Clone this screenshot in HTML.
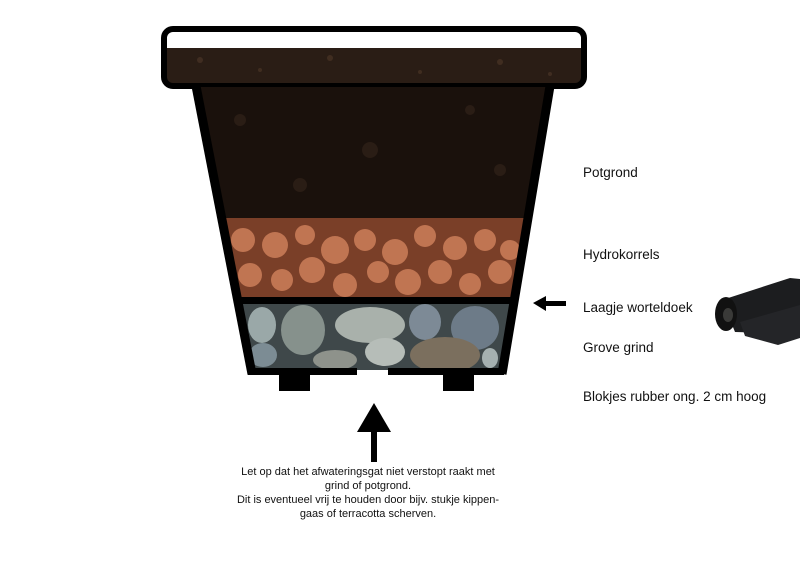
<!DOCTYPE html>
<html><head><meta charset="utf-8"><style>
html,body{margin:0;padding:0;background:#fff;}
svg{display:block;}
text{font-family:"Liberation Sans",sans-serif;fill:#111;}
</style></head><body>
<svg width="800" height="569" viewBox="0 0 800 569" xmlns="http://www.w3.org/2000/svg">
<defs>
<clipPath id="body"><polygon points="196,87 550,87 502,371 252,371"/></clipPath>
</defs>
<!-- rim -->
<rect x="164" y="29" width="420" height="57" rx="9" fill="#fff"/>
<rect x="166" y="48" width="416" height="36" fill="#2a1d15"/>
<g fill="#4a3526" opacity="0.7">
<circle cx="200" cy="60" r="3"/><circle cx="260" cy="70" r="2"/><circle cx="330" cy="58" r="3"/><circle cx="420" cy="72" r="2"/><circle cx="500" cy="62" r="3"/><circle cx="550" cy="74" r="2"/>
</g>
<rect x="164" y="29" width="420" height="57" rx="9" fill="none" stroke="#000" stroke-width="6"/>
<!-- body fill -->
<g clip-path="url(#body)">
<rect x="180" y="87" width="400" height="131" fill="#1a110c"/>
<g fill="#2a1d15"><circle cx="240" cy="120" r="6"/><circle cx="370" cy="150" r="8"/><circle cx="470" cy="110" r="5"/><circle cx="300" cy="185" r="7"/><circle cx="500" cy="170" r="6"/></g>
<rect x="180" y="218" width="400" height="80" fill="#7a3f28"/>
<g fill="#c07552">
<circle cx="243" cy="240" r="12"/><circle cx="275" cy="245" r="13"/><circle cx="305" cy="235" r="10"/><circle cx="335" cy="250" r="14"/><circle cx="365" cy="240" r="11"/><circle cx="395" cy="252" r="13"/><circle cx="425" cy="236" r="11"/><circle cx="455" cy="248" r="12"/><circle cx="485" cy="240" r="11"/><circle cx="510" cy="250" r="10"/>
<circle cx="250" cy="275" r="12"/><circle cx="282" cy="280" r="11"/><circle cx="312" cy="270" r="13"/><circle cx="345" cy="285" r="12"/><circle cx="378" cy="272" r="11"/><circle cx="408" cy="282" r="13"/><circle cx="440" cy="272" r="12"/><circle cx="470" cy="284" r="11"/><circle cx="500" cy="272" r="12"/>
</g>
<rect x="180" y="297" width="400" height="7" fill="#000"/>
<rect x="180" y="304" width="400" height="66" fill="#3f484a"/>
<g>
<ellipse cx="262" cy="325" rx="14" ry="18" fill="#9aa8a8"/><ellipse cx="303" cy="330" rx="22" ry="25" fill="#86918c"/><ellipse cx="370" cy="325" rx="35" ry="18" fill="#a9b1ab"/><ellipse cx="425" cy="322" rx="16" ry="18" fill="#7d8a96"/><ellipse cx="475" cy="328" rx="24" ry="22" fill="#6d7b88"/>
<ellipse cx="263" cy="355" rx="14" ry="12" fill="#7c8c94"/><ellipse cx="335" cy="360" rx="22" ry="10" fill="#8e928b"/><ellipse cx="385" cy="352" rx="20" ry="14" fill="#b6bdb8"/><ellipse cx="445" cy="355" rx="35" ry="18" fill="#7b6f5e"/><ellipse cx="490" cy="358" rx="8" ry="10" fill="#a5b0b0"/>
</g>
</g>
<!-- pot outline -->
<line x1="196" y1="86" x2="252" y2="374" stroke="#000" stroke-width="9"/>
<line x1="550" y1="86" x2="502" y2="374" stroke="#000" stroke-width="9"/>
<rect x="248" y="368" width="109" height="7" fill="#000"/>
<rect x="388" y="368" width="116" height="7" fill="#000"/>
<rect x="279" y="374" width="31" height="17" fill="#000"/>
<rect x="443" y="374" width="31" height="17" fill="#000"/>
<!-- arrows -->
<polygon points="374,403 357,432 391,432" fill="#000"/>
<rect x="371" y="430" width="6" height="32" fill="#000"/>
<polygon points="533,303 546,296 546,311" fill="#000"/>
<rect x="545" y="301" width="21" height="5" fill="#000"/>
<!-- roll -->
<g>
<polygon points="722,300 790,278 800,279 800,320 770,333 735,332" fill="#1c1d1f"/>
<polygon points="740,322 800,305 800,338 778,345 745,336" fill="#242528"/>
<ellipse cx="726" cy="314" rx="11" ry="17" fill="#111"/>
<ellipse cx="728" cy="315" rx="5" ry="7" fill="#3a3a38"/>
</g>
<!-- labels -->
<g font-size="13.5">
<text x="583" y="177">Potgrond</text>
<text x="583" y="259">Hydrokorrels</text>
<text x="583" y="312">Laagje worteldoek</text>
<text x="583" y="352">Grove grind</text>
<text x="583" y="401">Blokjes rubber ong. 2 cm hoog</text>
</g>
<g font-size="11" text-anchor="middle">
<text x="368" y="475">Let op dat het afwateringsgat niet verstopt raakt met</text>
<text x="368" y="489">grind of potgrond.</text>
<text x="368" y="503">Dit is eventueel vrij te houden door bijv. stukje kippen-</text>
<text x="368" y="517">gaas of terracotta scherven.</text>
</g>
</svg>
</body></html>
